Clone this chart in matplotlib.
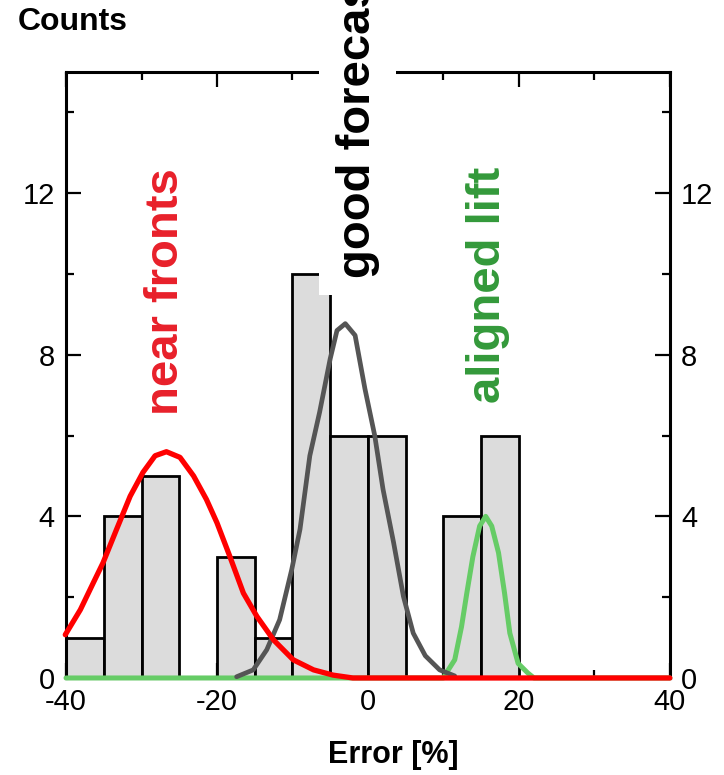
import matplotlib
matplotlib.use('Agg')
import matplotlib.pyplot as plt
from matplotlib.ticker import MultipleLocator

plt.rcParams['font.family'] = ['Liberation Sans', 'DejaVu Sans']
plt.rcParams['axes.unicode_minus'] = False

# histogram of errors, bins of 5 %
bin_left = [-40, -35, -30, -25, -20, -15, -10, -5, 0, 5, 10, 15]
counts = [1, 4, 5, 0, 3, 1, 10, 6, 6, 0, 4, 6]
bin_width = 5

# fitted curves
red_x = [-40.1, -38.1, -36.4, -35.1, -33.3, -31.5, -29.8, -28.2, -26.7, -24.9,
         -23.1, -21.4, -20.0, -18.3, -16.5, -14.7, -12.5, -9.9, -7.2, -4.6, -2.0, 40.0]
red_y = [1.07, 1.69, 2.35, 2.85, 3.68, 4.5, 5.09, 5.5, 5.6, 5.46,
         5.0, 4.42, 3.84, 3.01, 2.1, 1.52, 0.94, 0.45, 0.2, 0.07, 0.0, 0.0]

gray_x = [-17.4, -15.2, -13.4, -11.7, -10.1, -9.0, -7.7, -6.4, -5.0, -4.1, -3.0,
          -1.7, -0.4, 0.9, 2.0, 3.4, 4.7, 6.0, 7.6, 9.5, 11.5]
gray_y = [0.03, 0.2, 0.7, 1.44, 2.68, 3.68, 5.5, 6.58, 7.9, 8.6, 8.77,
          8.48, 7.16, 6.0, 4.67, 3.35, 2.02, 1.11, 0.55, 0.2, 0.05]

green_x = [-40.0, 10.0, 10.2, 11.5, 12.4, 13.1, 13.9, 14.8, 15.6, 16.4, 17.3,
           18.1, 18.8, 19.9, 21.2, 22.0, 40.0]
green_y = [0.0, 0.0, 0.07, 0.45, 1.27, 2.1, 3.0, 3.76, 4.0, 3.76, 3.1,
           2.1, 1.11, 0.36, 0.12, 0.0, 0.0]

fig = plt.figure(figsize=(7.24, 7.75), dpi=100)
ax = fig.add_axes([0.0912, 0.1252, 0.834, 0.782])

ax.bar(bin_left, counts, width=bin_width, align='edge', color='#dcdcdc',
       edgecolor='black', linewidth=2, zorder=2)

line_kw = dict(zorder=3, clip_on=False, solid_joinstyle='round', solid_capstyle='round')
ax.plot(green_x, green_y, color='#66cc66', lw=3.6, **line_kw)
ax.plot(gray_x, gray_y, color='#555555', lw=3.4, **line_kw)
ax.plot(red_x, red_y, color='red', lw=3.8, **line_kw)

ax.set_xlim(-40, 40)
ax.set_ylim(0, 15)
ax.xaxis.set_major_locator(MultipleLocator(20))
ax.xaxis.set_minor_locator(MultipleLocator(10))
ax.yaxis.set_major_locator(MultipleLocator(4))
ax.yaxis.set_minor_locator(MultipleLocator(2))

ax.tick_params(which='both', direction='in', top=True, right=True,
               labelright=True, width=1.6, labelsize=21, color='black')
ax.tick_params(which='major', length=11, pad=7)
ax.tick_params(which='minor', length=6)
ax.tick_params(axis='y', which='major', pad=8)
for sp in ax.spines.values():
    sp.set_linewidth(2.2)

# labels
fig.text(18 / 724, 1 - 22 / 775, 'Counts', fontsize=23, fontweight='bold',
         ha='left', va='center')
fig.text(393 / 724, 1 - 755 / 775, 'Error [%]', fontsize=22, fontweight='bold',
         ha='center', va='center')

ax.text(-25.2, 6.5, 'near fronts', rotation=90, rotation_mode='anchor',
        ha='left', va='baseline', fontsize=34, fontweight='bold', color='#e8202a', zorder=5)
ax.text(17.5, 6.8, 'aligned lift', rotation=90, rotation_mode='anchor',
        ha='left', va='baseline', fontsize=34, fontweight='bold', color='#33993a', zorder=5)
ax.text(0.26, 9.9, 'good forecast', rotation=90, rotation_mode='anchor',
        ha='left', va='baseline', fontsize=34, fontweight='bold', color='black',
        zorder=10, clip_on=False,
        bbox=dict(boxstyle='square,pad=0.35', facecolor='white', edgecolor='none'))

fig.savefig('out.png', dpi=100)
